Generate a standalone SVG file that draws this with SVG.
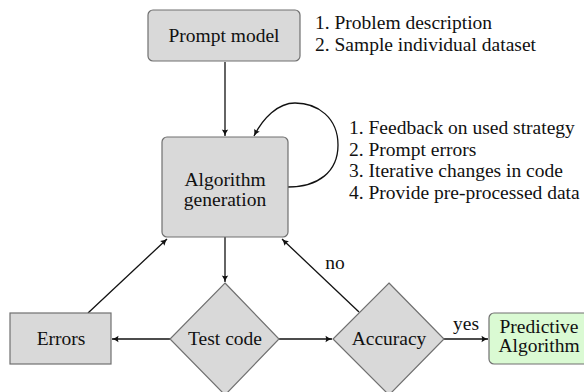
<svg xmlns="http://www.w3.org/2000/svg" width="584" height="392" viewBox="0 0 584 392" font-family="Liberation Serif, DejaVu Serif, serif">
<defs>
<marker id="ah" markerWidth="8" markerHeight="8" refX="7" refY="4" orient="auto" markerUnits="userSpaceOnUse">
<path d="M0.5,0.8 Q3.5,3 7,4 Q3.5,5 0.5,7.2 Q2,4 0.5,0.8 Z" fill="#111"/>
</marker>
<style>
.n{fill:#d9d9d9;stroke:#707070;stroke-width:1.2}
.g{fill:#dafad3;stroke:#707070;stroke-width:1.2}
text{font-family:"Liberation Serif","DejaVu Serif",serif;font-size:19.5px;fill:#111}
.c{text-anchor:middle}
.e{fill:none;stroke:#111;stroke-width:1.3;marker-end:url(#ah)}
</style>
</defs>
<rect width="584" height="392" fill="#fff"/>
<g id="connectors">
<line class="e" x1="225" y1="62" x2="225" y2="136"/>
<path class="e" d="M288,187 C318,187 338,172 338,145 C338,118 318,103 295,103 C278,103 263,118 254,136"/>
<line class="e" x1="225" y1="237" x2="225" y2="282"/>
<line class="e" x1="170" y1="339" x2="112" y2="339"/>
<line class="e" x1="88" y1="313" x2="167" y2="239"/>
<line class="e" x1="279" y1="339" x2="332" y2="339"/>
<line class="e" x1="359" y1="312" x2="282" y2="239"/>
<line class="e" x1="444" y1="339" x2="488" y2="339"/>
<text class="c" x="335" y="269">no</text>
<text class="c" x="466" y="330">yes</text>
</g>
<g id="prompt">
<rect class="n" x="148" y="10" width="152" height="51" rx="5"/>
<text class="c" x="224" y="42">Prompt model</text>
</g>
<g id="notes1">
<text x="315" y="29">1. Problem description</text>
<text x="315" y="51">2. Sample individual dataset</text>
</g>
<g id="algo">
<rect class="n" x="162" y="137" width="126" height="100" rx="5"/>
<text class="c" x="225" y="186">Algorithm</text>
<text class="c" x="225" y="206">generation</text>
</g>
<g id="notes2">
<text x="349" y="134">1. Feedback on used strategy</text>
<text x="349" y="156">2. Prompt errors</text>
<text x="349" y="177">3. Iterative changes in code</text>
<text x="349" y="199">4. Provide pre-processed data</text>
</g>
<g id="errors">
<rect class="n" x="10" y="313" width="101" height="51"/>
<text class="c" x="61" y="345">Errors</text>
</g>
<g id="test">
<polygon class="n" points="225,283 279,339 225,395 170,339"/>
<text class="c" x="225" y="345">Test code</text>
</g>
<g id="accuracy">
<polygon class="n" points="389,283 444,339 389,395 333,339"/>
<text class="c" x="389" y="345">Accuracy</text>
</g>
<g id="predictive">
<rect class="g" x="489" y="313" width="104" height="51" rx="5"/>
<text class="c" x="539" y="333">Predictive</text>
<text class="c" x="539" y="352">Algorithm</text>
</g>
</svg>
